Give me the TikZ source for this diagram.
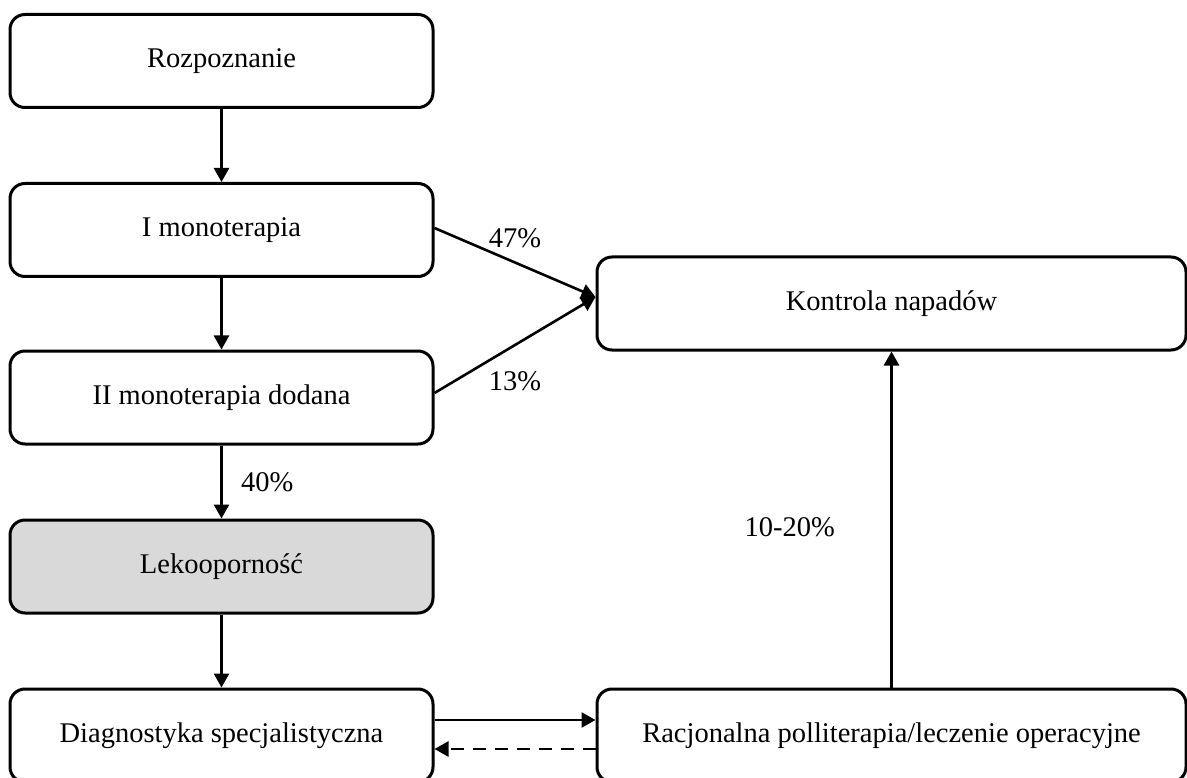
\documentclass[tikz,border=0pt]{standalone}
\usepackage{fontspec}
\setmainfont{Liberation Serif}
\usepackage{tikz}
\usetikzlibrary{calc,arrows.meta}

\tikzset{
	box/.style={draw, line width=3pt, rounded corners=15pt, fill=white, minimum width=423pt, minimum height=93pt, font=\fontsize{28.5}{33}\selectfont},
	widebox/.style={box, minimum width=589pt},
	arr/.style={line width=2.6pt, -{Triangle[length=14pt,width=15pt]}},
	lbl/.style={font=\fontsize{28.5}{33}\selectfont}
}

\begin{document}
\begin{tikzpicture}[x=1pt, y=-1pt]
			%%%%% START %%%%%
			
			\useasboundingbox (0, 0) rectangle (1187, 778);
			
			\node[box] (rozp) at (221.5, 61) {Rozpoznanie};
			\node[box] (mono) at (221.5, 230) {I monoterapia};
			\node[box] (dodana) at (221.5, 397.5) {II monoterapia dodana};
			\node[box, fill=black!15] (leko) at (221.5, 566.5) {Lekooporność};
			\node[box] (diag) at (221.5, 735.5) {Diagnostyka specjalistyczna};
			
			\node[widebox] (kontrola) at (891.5, 303.5) {Kontrola napadów};
			\node[widebox] (racj) at (891.5, 735.5) {Racjonalna polliterapia/leczenie operacyjne};
			
			\draw[arr] (rozp) -- (mono);
			\draw[arr] (mono) -- (dodana);
			\draw[arr] (dodana) -- node[lbl, right=15pt] {40\%} (leko);
			\draw[arr] (leko) -- (diag);
			
			\draw[arr] ([yshift=2pt]mono.east) -- node[lbl, above=10pt] {47\%} ([yshift=6.5pt]kontrola.west);
			\draw[arr] ([yshift=4.5pt]dodana.east) -- node[lbl, below=22pt] {13\%} ([yshift=6.5pt]kontrola.west);
			
			\draw[arr] ([yshift=15.5pt]diag.east) -- ([yshift=15.5pt]racj.west);
			\draw[arr, dash pattern=on 13pt off 9pt] ([yshift=-13.5pt]racj.west) -- ([yshift=-13.5pt]diag.east);
			
			\draw[arr] (racj) -- node[lbl, left=52pt, yshift=-8pt] {10-20\%} (kontrola);
			
			%%%%% END %%%%%
\end{tikzpicture}
\end{document}
